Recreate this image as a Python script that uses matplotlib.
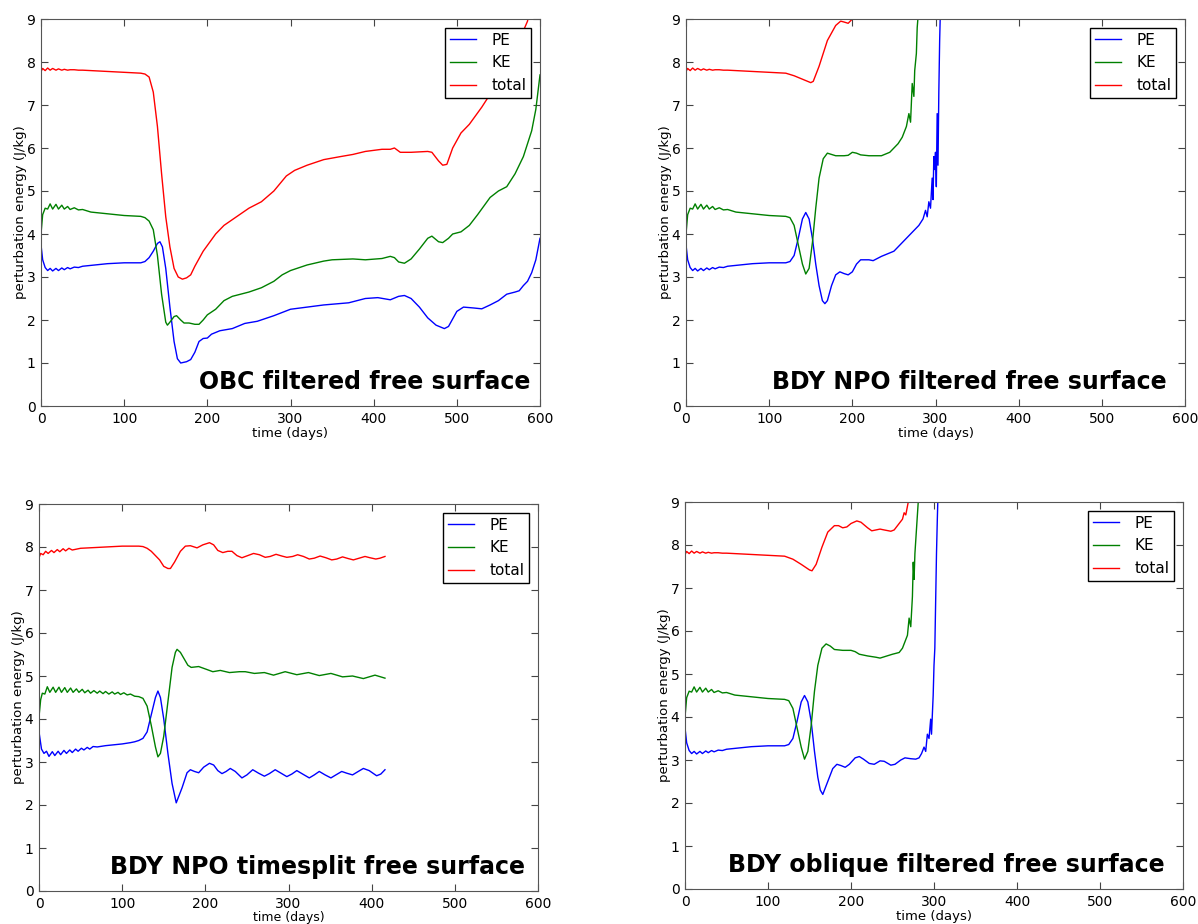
import numpy as np
import matplotlib
matplotlib.use('Agg')
import matplotlib.pyplot as plt

# --- data (time in days, energy in J/kg) ---

# shared start-up transient (panels 1, 2 and 4 look identical up to ~120 days)
t_early = [0, 2, 5, 8, 11, 14, 18, 21, 25, 28, 32, 35, 40, 45, 50, 60, 70, 80, 90, 100, 110, 120]
pe_early = [3.75, 3.4, 3.22, 3.15, 3.2, 3.14, 3.2, 3.15, 3.21, 3.17, 3.22, 3.19, 3.23, 3.22, 3.25,
            3.27, 3.29, 3.31, 3.32, 3.33, 3.33, 3.33]
ke_early = [4.0, 4.45, 4.6, 4.58, 4.7, 4.58, 4.69, 4.58, 4.67, 4.58, 4.64, 4.57, 4.61, 4.56, 4.57,
            4.51, 4.49, 4.47, 4.45, 4.43, 4.42, 4.41]
tot_early = [7.78, 7.85, 7.8, 7.86, 7.81, 7.85, 7.81, 7.84, 7.81, 7.83, 7.81, 7.82, 7.82, 7.81, 7.81,
             7.8, 7.79, 7.78, 7.77, 7.76, 7.75, 7.74]

# panel 1: OBC filtered
t1_pe = [125, 130, 135, 140, 143, 146, 150, 155, 160, 164, 168, 175, 180, 185, 190, 195, 200, 205,
         215, 230, 245, 260, 280, 300, 320, 340, 370, 390, 405, 420, 430, 437, 445, 455, 465, 475,
         485, 490, 500, 508, 520, 530, 540, 550, 560, 570, 575, 580, 585, 590, 595, 600]
v1_pe = [3.36, 3.45, 3.6, 3.78, 3.82, 3.7, 3.2, 2.3, 1.5, 1.1, 1.0, 1.03, 1.08, 1.25, 1.5, 1.57,
         1.58, 1.67, 1.75, 1.8, 1.92, 1.97, 2.1, 2.25, 2.3, 2.35, 2.4, 2.5, 2.52, 2.47, 2.55, 2.57,
         2.5, 2.3, 2.05, 1.88, 1.8, 1.85, 2.2, 2.3, 2.28, 2.26, 2.35, 2.45, 2.6, 2.65, 2.68, 2.8,
         2.9, 3.1, 3.4, 3.9]
t1_ke = [125, 130, 135, 140, 145, 150, 152, 155, 160, 163, 168, 172, 178, 185, 190, 195, 200, 210,
         220, 230, 250, 265, 280, 290, 300, 320, 340, 350, 375, 390, 410, 420, 425, 430, 437, 445,
         455, 465, 470, 478, 483, 490, 495, 505, 515, 525, 540, 550, 560, 570, 580, 590, 595, 600]
v1_ke = [4.38, 4.3, 4.1, 3.5, 2.6, 1.95, 1.88, 1.95, 2.08, 2.1, 2.0, 1.93, 1.93, 1.9, 1.9, 2.0,
         2.12, 2.25, 2.45, 2.55, 2.65, 2.75, 2.9, 3.05, 3.15, 3.28, 3.37, 3.4, 3.42, 3.4, 3.43,
         3.48, 3.45, 3.35, 3.32, 3.42, 3.65, 3.9, 3.95, 3.82, 3.8, 3.9, 4.0, 4.05, 4.2, 4.45, 4.85,
         5.0, 5.1, 5.4, 5.8, 6.4, 6.9, 7.7]
t1_tot = [125, 130, 135, 140, 145, 150, 155, 160, 165, 170, 175, 180, 185, 195, 210, 220, 235, 250,
          265, 280, 295, 305, 320, 340, 360, 375, 390, 410, 420, 425, 432, 445, 465, 470, 478, 483,
          488, 495, 505, 515, 530, 545, 555, 565, 575, 585, 588]
v1_tot = [7.72, 7.65, 7.3, 6.5, 5.4, 4.4, 3.7, 3.2, 3.0, 2.95, 2.98, 3.05, 3.25, 3.6, 4.0, 4.2,
          4.4, 4.6, 4.75, 5.0, 5.35, 5.48, 5.6, 5.73, 5.8, 5.85, 5.92, 5.97, 5.97, 6.0, 5.9, 5.9,
          5.92, 5.9, 5.7, 5.6, 5.62, 6.0, 6.35, 6.55, 6.95, 7.4, 7.8, 8.2, 8.5, 8.95, 9.3]

# panel 2: BDY NPO filtered
t2_pe = [125, 130, 135, 140, 144, 148, 152, 156, 160, 164, 167, 170, 175, 180, 185, 190, 195, 200,
         205, 210, 220, 225, 235, 250, 260, 270, 280, 285, 288, 290, 292, 294, 296, 297, 298, 299,
         300, 301, 302, 303, 304, 305, 306]
v2_pe = [3.36, 3.5, 3.9, 4.35, 4.5, 4.35, 3.9, 3.3, 2.8, 2.45, 2.38, 2.45, 2.8, 3.05, 3.12, 3.08,
         3.05, 3.12, 3.3, 3.4, 3.4, 3.38, 3.48, 3.6, 3.8, 4.0, 4.2, 4.35, 4.55, 4.4, 4.75, 4.6, 5.3,
         4.8, 5.8, 5.5, 5.9, 5.1, 6.8, 5.6, 7.3, 8.5, 9.3]
t2_ke = [125, 130, 135, 140, 144, 148, 152, 156, 160, 165, 170, 175, 180, 190, 195, 200, 205, 210,
         220, 235, 245, 250, 255, 260, 265, 268, 270, 272, 274, 275, 277, 278, 280]
v2_ke = [4.38, 4.2, 3.75, 3.3, 3.07, 3.2, 3.8, 4.6, 5.3, 5.75, 5.88, 5.85, 5.82, 5.82, 5.83, 5.9,
         5.88, 5.84, 5.82, 5.82, 5.9, 6.0, 6.1, 6.25, 6.5, 6.8, 6.6, 7.5, 7.2, 7.8, 8.2, 8.8, 9.3]
t2_tot = [130, 140, 150, 153, 160, 170, 180, 186, 190, 195, 200, 203]
v2_tot = [7.68, 7.6, 7.52, 7.55, 7.9, 8.5, 8.85, 8.95, 8.93, 8.9, 9.0, 9.1]

# panel 3: BDY NPO timesplit (run stops at ~416 days)
t3_pe = [0, 3, 6, 9, 12, 16, 19, 23, 26, 30, 33, 37, 40, 44, 47, 51, 54, 58, 61, 65, 70, 80, 90,
         100, 110, 115, 120, 125, 130, 135, 140, 143, 146, 150, 155, 160, 165, 172, 178, 182, 187,
         192, 198, 205, 210, 215, 220, 225, 230, 236, 244, 250, 257, 264, 271, 277, 284, 291, 298,
         304, 310, 317, 325, 331, 337, 344, 351, 357, 364, 370, 377, 383, 390, 397, 406, 411, 416]
v3_pe = [3.7, 3.3, 3.2, 3.25, 3.13, 3.24, 3.15, 3.25, 3.17, 3.27, 3.2, 3.28, 3.22, 3.3, 3.25, 3.32,
         3.28, 3.34, 3.3, 3.36, 3.35, 3.38, 3.4, 3.42, 3.45, 3.47, 3.5, 3.55, 3.7, 4.1, 4.5, 4.65,
         4.5, 4.0, 3.2, 2.5, 2.05, 2.4, 2.75, 2.82, 2.78, 2.75, 2.88, 2.97, 2.93, 2.8, 2.73, 2.78,
         2.85, 2.78, 2.63, 2.7, 2.82, 2.74, 2.67, 2.73, 2.82, 2.74, 2.66, 2.72, 2.8, 2.72, 2.63, 2.7,
         2.78, 2.7, 2.63, 2.7, 2.78, 2.74, 2.7, 2.77, 2.85, 2.8, 2.68, 2.72, 2.82]
t3_ke = [0, 2, 4, 7, 10, 13, 17, 20, 24, 27, 31, 34, 38, 41, 45, 48, 52, 55, 59, 62, 66, 70, 73,
         77, 80, 84, 88, 91, 95, 98, 102, 106, 110, 115, 120, 125, 130, 135, 140, 143, 146, 150,
         155, 160, 164, 166, 170, 179, 183, 192, 202, 209, 218, 229, 241, 248, 259, 271, 282, 296,
         310, 324, 337, 351, 365, 377, 390, 404, 416]
v3_ke = [4.05, 4.45, 4.6, 4.58, 4.75, 4.62, 4.74, 4.62, 4.74, 4.62, 4.73, 4.62, 4.72, 4.62, 4.7,
         4.62, 4.69, 4.61, 4.67, 4.6, 4.66, 4.6, 4.65, 4.59, 4.64, 4.58, 4.63, 4.58, 4.62, 4.57,
         4.61, 4.56, 4.58, 4.53, 4.52, 4.48, 4.3, 3.85, 3.35, 3.12, 3.2, 3.6, 4.4, 5.2, 5.55, 5.62,
         5.55, 5.25, 5.2, 5.22, 5.15, 5.1, 5.13, 5.08, 5.1, 5.1, 5.06, 5.08, 5.02, 5.1, 5.03, 5.08,
         5.01, 5.06, 4.98, 5.0, 4.94, 5.02, 4.95]
t3_tot = [0, 2, 5, 8, 11, 15, 18, 22, 25, 29, 32, 36, 40, 50, 60, 70, 80, 90, 100, 110, 120, 125,
          130, 135, 140, 145, 150, 155, 158, 163, 170, 176, 182, 190, 197, 205, 210, 215, 221, 227,
          232, 238, 244, 251, 258, 265, 272, 278, 285, 292, 298, 305, 311, 318, 325, 331, 338, 345,
          352, 358, 365, 372, 378, 385, 392, 398, 405, 410, 416]
v3_tot = [7.75, 7.85, 7.82, 7.9, 7.85, 7.92, 7.87, 7.94, 7.89, 7.96, 7.91, 7.97, 7.93, 7.97, 7.98,
          7.99, 8.0, 8.01, 8.02, 8.02, 8.02, 8.01, 7.97, 7.9, 7.8, 7.7, 7.55, 7.5, 7.5, 7.65, 7.9,
          8.02, 8.03, 7.98, 8.05, 8.1, 8.05, 7.92, 7.87, 7.9, 7.9, 7.8, 7.75, 7.8, 7.85, 7.82, 7.76,
          7.78, 7.83, 7.79, 7.76, 7.78, 7.82, 7.78, 7.72, 7.74, 7.79, 7.75, 7.7, 7.72, 7.77, 7.73,
          7.7, 7.74, 7.78, 7.75, 7.72, 7.74, 7.78]

# panel 4: BDY oblique filtered
t4_pe = [125, 130, 135, 140, 144, 148, 152, 156, 160, 163, 166, 172, 178, 183, 188, 193, 198, 205,
         210, 215, 222, 228, 235, 240, 248, 253, 260, 265, 272, 278, 282, 285, 288, 290, 292, 294,
         296, 297, 299, 300, 301, 302, 303, 304, 305]
v4_pe = [3.36, 3.5, 3.9, 4.35, 4.5, 4.35, 3.9, 3.2, 2.6, 2.3, 2.2, 2.5, 2.8, 2.9, 2.87, 2.83, 2.9,
         3.05, 3.08, 3.02, 2.92, 2.9, 2.98, 2.97, 2.88, 2.9, 3.0, 3.05, 3.03, 3.02, 3.05, 3.15, 3.3,
         3.2, 3.6, 3.5, 3.95, 3.6, 4.5, 5.2, 5.6, 6.7, 7.8, 8.6, 9.3]
t4_ke = [125, 130, 135, 140, 144, 148, 152, 156, 160, 165, 170, 175, 180, 190, 200, 205, 210, 220,
         230, 235, 240, 250, 258, 262, 265, 268, 270, 272, 274, 275, 276, 277, 278, 280, 282]
v4_ke = [4.38, 4.2, 3.75, 3.3, 3.02, 3.2, 3.8, 4.6, 5.2, 5.6, 5.7, 5.65, 5.57, 5.55, 5.55, 5.52,
         5.46, 5.42, 5.39, 5.37, 5.4, 5.46, 5.5, 5.6, 5.75, 5.9, 6.3, 6.1, 6.8, 7.6, 7.2, 7.8, 8.1,
         8.7, 9.3]
t4_tot = [130, 140, 150, 153, 158, 165, 172, 180, 185, 190, 195, 200, 207, 212, 220, 225, 230, 235,
          240, 248, 252, 258, 262, 264, 266, 268, 270]
v4_tot = [7.67, 7.55, 7.42, 7.4, 7.55, 7.95, 8.3, 8.45, 8.45, 8.4, 8.42, 8.5, 8.56, 8.53, 8.4,
          8.33, 8.35, 8.37, 8.35, 8.32, 8.35, 8.5, 8.6, 8.75, 8.7, 8.9, 9.1]

titles = ['OBC filtered free surface', 'BDY NPO filtered free surface',
          'BDY NPO timesplit free surface', 'BDY oblique filtered free surface']


def join(a, b):
    return np.array(list(a) + list(b))


panels = [
    (join(t_early, t1_pe), join(pe_early, v1_pe), join(t_early, t1_ke), join(ke_early, v1_ke),
     join(t_early, t1_tot), join(tot_early, v1_tot)),
    (join(t_early, t2_pe), join(pe_early, v2_pe), join(t_early, t2_ke), join(ke_early, v2_ke),
     join(t_early, t2_tot), join(tot_early, v2_tot)),
    (np.array(t3_pe), np.array(v3_pe), np.array(t3_ke), np.array(v3_ke),
     np.array(t3_tot), np.array(v3_tot)),
    (join(t_early, t4_pe), join(pe_early, v4_pe), join(t_early, t4_ke), join(ke_early, v4_ke),
     join(t_early, t4_tot), join(tot_early, v4_tot)),
]

# axes boxes in pixels: left, top, right, bottom (pasted-together screenshots)
W, H = 1198, 924
boxes = [(41, 19, 540, 406), (686, 19, 1185, 406), (39, 504, 538, 891), (685, 502, 1183, 889)]
title_x = [530, 1167, 525, 1165]
# bottom-left label sits right at the image edge, squeeze it a little
xlabel_pad = [1, 1, 0, 1]
xlabel_size = [9.5, 9.5, 9, 9.5]

fig = plt.figure(figsize=(W / 100, H / 100), dpi=100)

for k in range(4):
    l, t, r, b = boxes[k]
    ax = fig.add_axes([l / W, 1 - b / H, (r - l) / W, (b - t) / H])
    tp, pe, tk, ke, tt, tot = panels[k]
    ax.plot(tp, pe, color='#0000ff', lw=1, label='PE')
    ax.plot(tk, ke, color='#008000', lw=1, label='KE')
    ax.plot(tt, tot, color='#ff0000', lw=1, label='total')
    ax.set_xlim(0, 600)
    ax.set_ylim(0, 9)
    ax.set_xticks(np.arange(0, 601, 100))
    ax.set_yticks(np.arange(0, 10, 1))
    ax.tick_params(direction='in', top=True, right=True, length=5, labelsize=10,
                   color='#444444', pad=4)
    for s in ax.spines.values():
        s.set_color('#555555')
    ax.set_xlabel('time (days)', fontsize=xlabel_size[k], labelpad=xlabel_pad[k])
    ax.set_ylabel('perturbation energy (J/kg)', fontsize=9.5, labelpad=0)
    leg = ax.legend(loc='upper right', fontsize=11, fancybox=False, framealpha=1,
                    edgecolor='black', handlelength=1.7, handletextpad=1.0,
                    borderpad=0.3, borderaxespad=0.6)
    leg.get_frame().set_linewidth(1)
    ax.text((title_x[k] - l) / (r - l), 0.045, titles[k], transform=ax.transAxes,
            ha='right', va='baseline', fontsize=17, fontweight='bold')

fig.savefig('out.png', dpi=100)
